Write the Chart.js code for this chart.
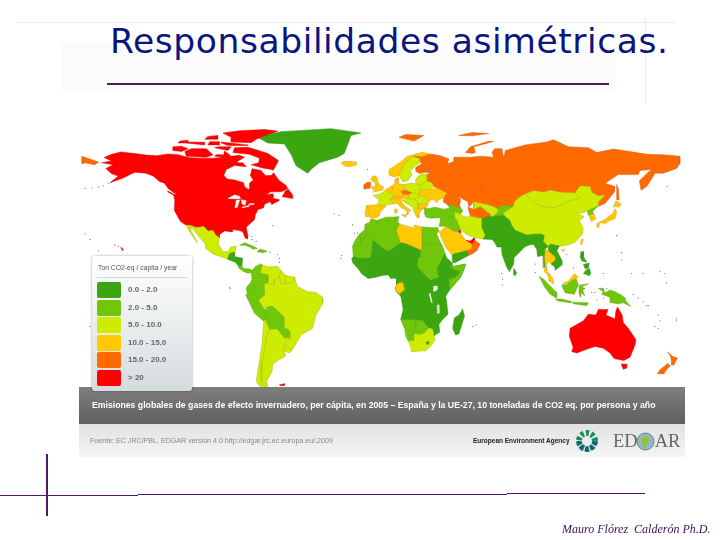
<!DOCTYPE html>
<html lang="es">
<head>
<meta charset="utf-8">
<title>Responsabilidades asimétricas</title>
<script src="https://cdn.jsdelivr.net/npm/chart.js@4"></script>
<style>
  html, body { margin: 0; padding: 0; background: #fff; }
  #page { position: relative; width: 720px; height: 540px; overflow: hidden; font-family: "Liberation Sans", sans-serif; }
  #page > * { position: absolute; }
  #map { left: 0; top: 0; filter: blur(0.45px); }
  .rule { background: #4f1a63; }
  .faint { background: #ececea; }
  #title { left: 110px; top: 21px; font: 34.5px "DejaVu Sans", sans-serif; letter-spacing: .58px; color: #0a1580; white-space: nowrap; }
  #band { left: 79px; top: 387px; width: 606px; height: 37px; background: linear-gradient(#787878, #565656); opacity: .95; }
  #bandText { left: 92px; top: 400px; font-size: 8.7px; font-weight: bold; color: #fff; white-space: nowrap; filter: blur(0.3px); }
  #foot { left: 79px; top: 424px; width: 606px; height: 33px; background: linear-gradient(#e2e2e2, #f5f5f5); }
  #source { left: 90px; top: 437px; font-size: 7.1px; color: #8a8a8a; white-space: nowrap; filter: blur(0.3px); }
  #eea { left: 473px; top: 437px; font-size: 6.5px; font-weight: bold; color: #222; white-space: nowrap; }
  #edgar { left: 613px; top: 431px; font: 18.5px "Liberation Serif", serif; color: #666; white-space: nowrap; }
  #legend { left: 92px; top: 256px; width: 100px; height: 135px; background: linear-gradient(#fff, #d6dcde); border-radius: 3px; box-shadow: 0 0 3px rgba(0,0,0,.35); }
  #legendTitle { position: absolute; left: 6px; top: 8px; font-size: 6.8px; color: #555; white-space: nowrap; }
  #legendLine { position: absolute; left: 5px; top: 21px; width: 90px; height: 1px; background: #d8d8d8; }
  .swatch { position: absolute; left: 5px; width: 24px; height: 16px; border-radius: 2px; }
  .swatchText { position: absolute; left: 36px; font-size: 8px; font-weight: bold; color: #666; white-space: nowrap; }
  #author { left: 562px; top: 522px; font: italic 12px "Liberation Serif", serif; color: #3a1060; white-space: pre; }
</style>
</head>
<body>
<div id="page">
  <div style="left:62px;top:42px;width:554px;height:49px;background:#fbfbfb"></div>
  <div class="faint" style="left:16px;top:22px;width:659px;height:1px"></div>
  <div class="faint" style="left:645px;top:17px;width:1px;height:86px"></div>
  <div id="title">Responsabilidades asimétricas.</div>
  <div class="rule" style="left:107px;top:83px;width:502px;height:2px"></div>

  <canvas id="map" width="720" height="540"></canvas>

  <div id="band"></div>
  <div id="bandText">Emisiones globales de gases de efecto invernadero, per cápita, en 2005 – España y la UE-27, 10 toneladas de CO2 eq. por persona y año</div>
  <div id="foot"></div>
  <div id="source">Fuente: EC JRC/PBL, EDGAR versión 4.0 http://edgar.jrc.ec.europa.eu/,2009</div>
  <div id="eea">European Environment Agency</div>
  <svg style="left:575px;top:429px" width="24" height="24">
    <circle cx="12" cy="12" r="8" fill="none" stroke="#1b8a5a" stroke-width="6" stroke-dasharray="3 2.2"/>
    <path d="M4 12a8 8 0 0 0 16 0" fill="none" stroke="#1a5a8a" stroke-width="5" stroke-dasharray="3 2.2"/>
  </svg>
  <div id="edgar">ED<span style="display:inline-block;width:17px"></span>AR</div>
  <svg style="left:636px;top:432px" width="19" height="19">
    <circle cx="9.5" cy="9.5" r="8.5" fill="#8fb8c8" stroke="#6a8a70" stroke-width="1"/>
    <path d="M5 6l6-2 3 4-3 3-2 6-3-5z" fill="#9cbf3a"/>
  </svg>

  <div id="legend">
    <div id="legendTitle">Ton CO2-eq / capita / year</div>
    <div id="legendLine"></div>
  </div>

  <div class="rule" style="left:46px;top:454px;width:1.5px;height:62px"></div>
  <div class="rule" style="left:0;top:495px;width:138px;height:1px"></div>
  <div class="rule" style="left:138px;top:494px;width:369px;height:1px"></div>
  <div class="rule" style="left:507px;top:493px;width:138px;height:1px"></div>
  <div id="author">Mauro Flórez  Calderón Ph.D.</div>
</div>

<script>
// legend classes, t CO2-eq per person
const bandLabels = ['0.0 - 2.0', '2.0 - 5.0', '5.0 - 10.0', '10.0 - 15.0', '15.0 - 20.0', '> 20'];
const bandColors = ['#3ba60f', '#70c70a', '#cdec00', '#ffc800', '#ff6a00', '#ff0000'];
const bandEdges = ['#2f8f12', '#5fa815', '#a9bf10', '#d9a520', '#d85c10', '#e00000'];

// country outlines, as lon,lat pairs
const canada = [-141,69.6,-135,69.3,-128,70.2,-122,69.8,-115,68.2,-108,68,-100,68,-95,68.5,-94,71.8,-90,69,-85,69.5,-82,68.5,-86,66.5,-87,64.5,-93,62,-94.5,59,-92.5,57,-88,56.5,-82.5,55,-82,52.9,-79.5,51.3,-79,52.5,-79,54.8,-76.7,56.5,-78.5,58.8,-77.5,62.4,-72,61.5,-69.5,58.8,-66,58.8,-64.5,60.3,-61.5,56.5,-57,53.5,-56,51.8,-60,50.2,-66.5,50.2,-69,48.5,-65,49.2,-64.5,47.9,-65,46.8,-61,46,-61.5,45.3,-65.7,43.5,-66.2,44.5,-67.5,45.3,-68,47.3,-70,46.3,-71.5,45,-75,45,-79,43.4,-79,42.8,-83,42,-82.5,45.3,-84.5,46.5,-89,48,-95,49,-123,49,-125,50,-128,52,-130,54.5,-133,57,-137,59,-141,60];
const alaska = [-141,69.6,-148,70.4,-156.5,71.3,-162,70,-166.5,68.3,-162,66.5,-168,65.6,-161,64.5,-165.5,62.5,-162,59.8,-158,58.5,-163,55,-155,57.5,-151,59.3,-148,60.5,-141,60,-137,58.5,-133,55.5,-130.5,55,-133,57.5,-137,59.5,-141,60.5];
const baffin = [-62,66,-64.7,61.6,-66,62,-71,62.8,-78,64.5,-73.5,65.5,-73,68,-79,70,-89,71,-88,73.5,-80,73.7,-76,72.7,-68,70.5,-62,67];
const victoriaIsland = [-117,69,-105,68.5,-101,69.7,-105,73,-114,73,-118,71.5];
const ellesmere = [-90,76.5,-78,76.2,-75,78,-70,79.5,-62,82.3,-70,83.1,-85,82.5,-95,81.3,-90,79];
const banks = [-125,72,-120,71.5,-116,73,-120,74.3,-125,74];
const devon = [-96,76.5,-80,75,-80,74.7,-92,74.7,-96,76];
const melville = [-117,76,-106,75,-106,76.4,-116,76.5];
const princePatrick = [-122,76,-116,76,-116,77.5,-121,77];
const bathurst = [-104,75,-97,75,-97,76.7,-103,76.7];
const ringnes = [-106,78,-98,78,-98,80,-104,79.5];
const kingWilliam = [-100,69,-95,68.5,-95,69.8,-99,69.8];
const southampton = [-87,64,-81,63.5,-83,65.5,-87,65.5];
const somerset = [-100,73.5,-92,72,-90,74,-98,74];
const newfoundland = [-59.3,47.6,-53,46.7,-53,48.5,-55.7,51.5,-57.5,50.5];
const vancouver = [-128.3,50.7,-123.5,48.4,-125,48.7,-128,50];
const usa = [-123,49,-95,49,-89,48,-84.5,46.5,-82.5,45.3,-83,42,-79,42.8,-79,43.4,-75,45,-71.5,45,-70,46.3,-68,47.3,-67.5,45.3,-67,44.8,-70,43.6,-70.5,41.8,-74,40.7,-75.5,38,-76,35.5,-78,33.9,-81,31.5,-80,27,-80.3,25.2,-81.7,25.9,-83,29,-85,29.7,-89,30.2,-89.5,29,-94,29.5,-97.3,27.5,-97.2,25.9,-99.5,27.5,-101,29.7,-104,29.5,-106.5,31.8,-111,31.3,-114.8,32.5,-117.1,32.5,-120.5,34.5,-122.5,37.5,-124.3,40.5,-124,46,-124.7,48.4];
const lakeSuperior = [-92,46.7,-88,48.5,-85,47.8,-84.5,46.5,-87,46.5];
const lakeMichigan = [-87.8,41.7,-86.3,42,-85,45.8,-87,45.7];
const lakeHuron = [-84,46,-81,45.5,-81.7,43.2,-83.5,43.8];
const lakeErie = [-83.3,41.7,-79,42.6,-79.5,42.9,-83,42.2];
const lakeOntario = [-79.7,43.3,-76.3,43.5,-76.3,44,-79,43.9];
const greenland = [-73,78.5,-68,76,-58,75.5,-54,70,-51,64,-44,60,-42,62,-37,65.6,-26,68.5,-22,70.5,-20,75,-18,80,-12,81.3,-30,83.6,-50,82.5,-60,82,-65,81];
const iceland = [-24,65.5,-22,64,-19,63.4,-14.5,64.5,-14.7,66,-18,66.2,-22,66.3];
const mexico = [-117.1,32.5,-114.8,32.5,-111,31.3,-106.5,31.8,-104,29.5,-101,29.7,-99.5,27.5,-97.2,25.9,-97.8,22.4,-95,18.6,-91.5,18.5,-90.5,21,-87,21.5,-88,18.2,-91,17.5,-92.2,14.6,-96,15.8,-101,17.3,-105.5,20.3,-105.5,22.5,-109,26,-112.5,30,-114.7,31.7,-114.5,30,-110,23,-112,25,-115,29];
const centralNorth = [-92.2,14.6,-91,17.5,-88,18.2,-88.2,16,-83.2,15,-83.6,11,-85.7,11,-87.6,13,-90,13.7];
const centralSouth = [-85.7,11,-83.6,11,-82.5,9.5,-79.5,9.5,-77.3,8.7,-78,7.3,-80.5,7.3,-83,8.3,-85.7,10];
const cuba = [-85,22,-82,23.2,-77,21.5,-74.2,20.2,-77.5,19.9,-78,20.8,-82,22];
const hispaniola = [-74.4,18.5,-72.8,19.9,-68.4,18.8,-71,18];
const colombia = [-77.3,8.7,-75.5,10.7,-72,12.2,-71.3,11,-72.5,7.4,-67.5,6.2,-67.8,2,-70,1.5,-69.8,-4.2,-73,-2.4,-75,-0.1,-78.8,1.4,-77.5,4,-77.9,7.2];
const venezuela = [-71.3,11,-72,11.8,-68,10.6,-62,10.7,-60,8.5,-61,5,-64,4,-64,1.2,-67,1.2,-67.8,2,-67.5,6.2,-72.5,7.4];
const guyana = [-60,8.5,-57.2,6,-58,1.5,-60,1.4,-61,5];
const suriname = [-57.2,6,-52,5,-51.7,4,-54,2.3,-58,1.5];
const ecuador = [-78.8,1.4,-75,-0.1,-75.5,-1.5,-78.5,-4.5,-80.3,-3.4,-81,-1,-80,0.8];
const peru = [-81.3,-4.5,-80.3,-3.4,-78.5,-4.5,-75.5,-1.5,-75,-0.1,-73,-2.4,-69.8,-4.2,-73.5,-7.3,-70.6,-11,-69,-12.5,-69.5,-17.5,-70.4,-18.3,-76,-14,-79.5,-7.5];
const bolivia = [-69,-10.9,-65.3,-10,-60.5,-13.7,-58,-16.3,-58,-20,-62.6,-22.2,-67,-22.8,-69.5,-17.5,-69,-12.5];
const paraguay = [-58,-20,-62.6,-22.2,-58,-27.2,-54.6,-27,-54.3,-24,-55.8,-22.3,-58,-22];
const brazil = [-51.7,4,-50,0,-44,-2.6,-39,-3,-35,-5.5,-35,-9,-39,-15,-41,-22,-48,-25.5,-53.4,-33.7,-57.6,-30.2,-54.6,-27,-54.3,-24,-55.8,-22.3,-58,-22,-58,-16.3,-60.5,-13.7,-65.3,-10,-69,-10.9,-70.6,-11,-73.5,-7.3,-69.8,-4.2,-70,1.5,-67.8,2,-67,1.2,-64,1.2,-64,4,-61,5,-60,1.4,-58,1.5,-54,2.3];
const uruguay = [-57.6,-30.2,-53.4,-33.7,-55,-35,-58.4,-34];
const argentina = [-67,-22.8,-62.6,-22.2,-58,-27.2,-54.6,-27,-57.6,-30.2,-58.4,-34,-57,-36.5,-62,-39,-65,-41,-65.5,-45,-69,-50.5,-68.5,-52.5,-65,-55,-68.6,-54.8,-72,-50,-71.5,-40,-70,-33,-69,-27];
const chile = [-69.5,-17.5,-67,-22.8,-69,-27,-70,-33,-71.5,-40,-72,-50,-68.6,-54.8,-71,-55,-75,-50,-73.5,-42,-71.5,-30,-70.4,-18.3];
const falklands = [-61,-51.8,-58,-51.3,-58,-52.2,-60.5,-52.3];
const morocco = [-5.9,35.8,-2,35.1,-1.2,32.5,-8.7,27.7,-8.7,26,-12,26,-12,23.4,-13,21.3,-17,21.3,-16,23.7,-13,27.7,-9.8,30,-9.5,33,-6.8,34];
const algeria = [-2,35.1,3,36.8,8.6,36.9,8,33,9.5,30,11.9,23.5,6,19.4,3.3,19,-4.8,25,-8.7,27.7,-1.2,32.5];
const tunisia = [8.6,36.9,11,37.1,10.2,34.3,11.5,33.1,9.5,30,8,33];
const libya = [11.5,33.1,15.3,32.3,20,30.9,20.2,32.7,25,31.6,25,20,24,19.5,15,23,11.9,23.5,9.5,30];
const egypt = [25,31.6,32,31.2,34.2,31.3,34.9,29.5,33.7,28,35.5,24,37,22,25,22];
const sudan = [25,22,37,22,38.5,18,36.5,14.3,34,10,34,8,35,5,30,3.5,24,8.7,22,11,22.8,15.5,24,15.7,24,19.5,25,20];
const mauritania = [-17,21.3,-13,21.3,-12,23.4,-12,26,-8.7,26,-8.7,27.7,-4.8,25,-6,15.5,-12,15,-16.5,16];
const subSahara = [-17.5,14.7,-16.7,12.4,-13.5,9.5,-11.5,6.9,-7.6,4.4,-3,5,1,6,4.5,6.3,6,4.3,8.5,4.6,9.7,3.5,9.5,1,8.7,-1,9.3,-2.5,12,-5,12.3,-6,13.5,-12,12,-17.3,14,-17.4,23.4,-17.6,25,-17.8,29,-22,31.3,-22.4,32,-26,33,-25.3,35.5,-24,35,-20,37,-17.5,40.5,-14.5,39.5,-7,39,-5,41.5,-1.7,45,2,48,5,50,9,51,12,44,10.7,43,11.5,43,12.5,39.5,15.5,38.5,18,36.5,14.3,34,10,34,8,35,5,30,3.5,24,8.7,22,11,22.8,15.5,24,15.7,24,19.5,15,23,11.9,23.5,6,19.4,3.3,19,-4.8,25,-6,15.5,-12,15,-16.5,16];
const somalia = [42,11,44,10.7,51,12,50,9,48,5,45,2,41.5,-1.7,41,3.9,45,5,48,8,43,9.5];
const gabon = [9.5,1,11.3,2.2,13.3,2.2,14.3,-1.5,11.5,-3.7,9.3,-2.5,8.7,-1];
const lakeVictoria = [32,-2.5,34,-1.5,34,0.3,32,0.2];
const lakeTanganyika = [29.2,-3.5,29.7,-3.5,31,-8.5,30.4,-8.2];
const lakeMalawi = [34.5,-9.5,35,-14,34.4,-14,34,-10];
const namibia = [12,-17.3,14,-17.4,23.4,-17.6,25,-17.8,21,-18.3,21,-22,20,-24.8,20,-28.5,16.5,-28.6,15,-26,14.5,-22.5];
const botswana = [21,-18.3,25,-17.8,29,-22,26,-24.7,23,-25.3,20,-24.8,21,-22];
const southAfrica = [16.5,-28.6,20,-28.5,20,-24.8,23,-25.3,26,-24.7,29,-22,31.3,-22.4,32,-26,32.8,-28,30,-31.5,27,-33.8,22,-34.1,18.5,-34.5,18,-32];
const lesotho = [27.2,-29.7,28.6,-28.8,29.3,-29.8,28,-30.6];
const madagascar = [49.3,-12,50.4,-15.5,47,-25,45,-25.5,43.3,-22,44.3,-16.5,47,-15];
const france = [-1.8,43.4,-1,46,-4.7,48.4,-1.6,48.7,1.5,50.1,2.5,51,4.2,50,8.2,49,7.5,47.5,6,46.3,7.5,43.8,3.2,43.2,3,42.4];
const spain = [-9,43,-1.8,43.4,3,42.4,0,39.8,-0.7,37.7,-2,36.8,-5.5,36,-7.3,37.2,-7,41.9,-8.8,41.9];
const portugal = [-8.8,41.9,-7,41.9,-7.3,37.2,-9,37,-9.5,38.8];
const britain = [-5,50,1.3,51.2,1.7,52.7,0,53.5,-1.5,55,-2,56,-2,57.6,-3.5,58.6,-5,58.6,-6,56.5,-3,54.8,-3,53.4,-5,52.8,-5,51.6,-3,51.3];
const ireland = [-10,51.7,-6.2,52.2,-6,55.2,-8.2,55.2,-10,54];
const benelux = [2.5,51,4,52,6.9,53.4,7,50.7,6.5,49.5,4.2,50];
const germany = [7,53.6,9,54.9,14,54,14.8,51,12.2,50.3,13.8,48.7,13,47.5,7.5,47.5,8.2,49,6.5,49.5,7,50.7];
const poland = [14,54,18.5,54.8,23,54.3,24,51,22.7,49,19,49.4,14.8,51];
const czechia = [12.2,50.3,14.8,51,18.8,49.6,17,48.7,13.8,48.7];
const austria = [7.5,47.5,13,47.5,13.8,48.7,17,48.7,16.5,46.8,12.5,46.7,10,46.5,6,46.3];
const italy = [6,46.3,7.5,43.8,10,44,12,42,15.8,40,16,38,17,39,16.7,40.2,18.5,40.2,16,41.7,13.5,43.6,12.3,45.3,13.7,45.7,12.5,46.7,10,46.5];
const sicily = [12.5,38,15.6,38.2,15,36.7];
const sardinia = [8.2,41,9.7,41,9.6,39,8.5,39];
const hungary = [17,48.7,18.8,49.6,22.7,49,22.9,47.9,21,46,16.5,46.8];
const balkans = [13.7,45.7,16.5,46.8,21,46,22.7,44,22.5,41.3,20,39.7,19.3,42,13.7,45];
const greece = [20,39.7,22.5,41.3,26.3,41.7,24,40,23,38,23,36.5,21.7,36.8];
const romania = [22.9,47.9,26.6,48.2,28.2,45.5,29.6,45,28.6,44,22.7,44,21,46];
const bulgaria = [22.7,44,28.6,43.6,27.7,42,26.3,41.7,22.5,41.3];
const ukraine = [24,51,30,51.4,34,52.3,40,49.6,38,47,35,46,33.5,44.5,32,46.2,30,45.7,28.2,45.5,26.6,48.2,22.9,47.9,22.7,49];
const belarus = [23.5,53.9,28,56,31,55,32,53,30,51.4,24,51];
const baltics = [21,56,21.5,57.5,24,59.5,28,59.5,28,56,23.5,53.9,21,55.2];
const denmark = [8.2,55,8.6,57,10.6,57.7,10.5,55];
const norway = [5,59,5,62,12,66,16,69,25,71.1,31,70,28,69.5,25,68.7,20,69,15,66,12,61,12,59,8,58];
const sweden = [11,59,12,61,15,66,20,69,23.5,67.8,24,65.8,21,64,17.5,61,19,59.5,16.5,56.3,14,55.4,12.8,56];
const finland = [20,69,25,68.7,28,69.5,29,66,31.5,62.8,27.8,60.5,23,60,21.2,61,21,63,24.7,65,24,65.8,23.5,67.8];
const russia = [28,59.5,30,60,27.8,60.5,31.5,62.8,29,66,28,69.5,31,70,36,69.3,41,67.5,40,65,44,66.2,44,68.5,54,68.5,60,69,68,68.5,67,71,68.5,73,73,73,74,68,75,72,81,73.5,87,75,100,76.5,104,77.7,113,74,125,73.5,130,71,140,72.8,150,71.5,160,70,170,69.8,180,69,180,65,178,62.5,170,60,165,60,163,57,160,53,156.7,51,155.7,56,161,60.5,163,62,156,61.5,155,59.3,143,59.3,135,54.7,141,53,140.5,50,135,44,131,42.5,131,45,135,48.5,131,48,127,50,126,53,120,53.3,117,49.6,108,50,102,51,98,50,92,50.7,87,49,83,51,77,53.5,71,55,61,54,61,51,55,51,51,51.5,47,50,47,48,48,46,47.5,43,48,41.8,47,42,40,43.5,37.5,45,38,47,40,49.6,34,52.3,32,53,31,55,28,56];
const chukotkaWest = [-180,69,-175,67.5,-170,66,-172,64.5,-178,65.5,-180,65];
const sakhalin = [142,54,143,52,143.5,46,142,46,142,50];
const novayaZemlya = [51,71,55,70.5,57,71,56,74,68,76.8,65,76.9,54,74];
const franzJosef = [47,80,55,79.8,65,81,55,81.5];
const svalbard = [11,79,20,77,26,80,15,80.5];
const kazakhstan = [47,50,51,51.5,55,51,61,51,61,54,71,55,77,53.5,83,51,87,49,83,47,80,42.5,74,43,70,41.5,66,43,61,44,56,41,56,45,53,42,52.5,45,49,46.5,47,48];
const turkmenistan = [52.5,42,56,41,60,42.5,66.5,38,64,36,61,36,54,37.3,53,40];
const uzbekistan = [56,45,56,41,60,42.5,66.5,38,68,37.2,71,40,73,40.5,70,41.5,66,43,61,44];
const kyrgyzTajik = [70,41.5,74,43,80,42.5,74,39,74.5,37.5,68,37.2,71,40];
const caucasus = [40,43.5,47,42,48,41.8,49.5,40,48,38.5,44.5,39.5,41.5,41.5];
const turkey = [26.3,41.7,28,41.3,33,42,38,41,41.5,41.5,44.5,39.5,44.5,37,36,36.5,30,36.2,27,37,26.3,39];
const syriaIraq = [36,36.5,44.5,37,46,35,48,30,46.5,29.1,44,29.2,39,32,35,32,35.8,34.5];
const saudi = [34.9,29.5,36,29.3,39,32,44,29.2,46.5,29.1,48,28.4,50,26,51.5,24.5,55,22.7,55,20,52,19,44,17.3,43,16.7,39,21,35.5,28];
const yemen = [43,16.7,44,17.3,52,19,53,16.6,45,12.8,43.3,12.7];
const oman = [55,22.7,56.4,24.9,59.8,22.5,57.7,19,55.3,17.5,53,16.6,52,19,55,20];
const emirates = [51.5,24.5,54,24.2,56.3,26,56.4,24.9,55,22.7];
const kuwait = [46.5,29.1,48,30,48.3,28.5];
const iran = [44.5,39.5,48,38.5,49,37.6,51.5,36.8,54,37.3,61,36,61,31.5,63,27,61.6,25.2,57,26,54,26.7,51,28,48.5,30,46,35,44.5,37];
const southAsia = [61,36,65,37.3,68,37.2,74.5,37.5,78,35,79,32.5,81,30,88,27.5,92,28,97,28,98.7,27,98,24,101,21.3,99,20,98.7,15,99,10.5,98,10,97.7,16.5,94.3,16,94,19.5,92,22.5,89,22,87,21.3,80.3,15.5,80,12,77.5,8,76,10,73,17,72.7,21,70,21,68.5,23.5,67,25,61.6,25.2,63,27,61,31.5];
const sriLanka = [80,9.7,81.8,7.5,81,6,80,6.2];
const china = [74,39,80,42.5,80.5,45,83,47,87,49,91,45.5,96,42.7,105,41.7,112,45,120,47,117,49.6,120,53.3,126,53,127,50,131,48,135,48.5,131,45,131,42.5,128,41.5,124.3,40,121.5,39,118,39,122.5,37,119.5,35,121.8,31,121.5,28,117,23.5,113.5,22.3,109.5,21.5,107.5,21.5,102,22.5,101,21.3,98,24,98.7,27,97,28,92,28,88,27.5,81,30,79,32.5,78,35,74.5,37.5];
const mongolia = [87,49,92,50.7,98,50,102,51,108,50,117,49.6,120,47,112,45,105,41.7,96,42.7,91,45.5];
const taiwan = [121,25.2,122,25,120.8,22,120.1,23];
const hainan = [108.7,19.3,110.8,20,110,18.5];
const northKorea = [124.3,40,128,41.5,130.5,42.5,127.5,39.7,128.3,38.6,126,38,125,37.8];
const southKorea = [125.5,37.7,128.3,38.6,129.4,36,127,34.5,126.3,35];
const honshu = [131,34,135,35.5,137,37,139.5,38.5,141,41.3,142,39.5,141,36,137,34.6,135.5,33.5,132,33.8];
const hokkaido = [140,42,141.5,45.5,145,43.5,143,42,141,42.5];
const kyushu = [130,33.5,131.7,33.5,131.2,31.2,130,31.5];
const thailand = [98.7,15,99,20,101,19,105,16,105.5,14.3,102.5,12,100.5,13.5,99.5,11,100,8.5,102,6.2,100.5,6.5,98.3,8,99,10.5];
const indochina = [101,21.3,102,22.5,107.5,21.5,106,19,109,14,109,11.5,105,8.7,104.8,10.5,102.5,12,105.5,14.3,105,16,101,19];
const malaya = [100.5,6.5,102,6.2,103.5,4.5,104,1.4,101.3,3];
const kalimantan = [109,1,112,1,115,4,117.5,4.2,119,1,116.5,-4,111,-3.2,109.5,-0.5];
const sabah = [109.7,1.8,113,3,116.8,7,119,5,117.5,4.2,115,3.5,112,1.3];
const sumatra = [95.3,5.6,98,4,104,-1.5,106,-3,105.7,-5.9,102,-4,98.5,0];
const java = [105.2,-6.5,108.5,-6.5,114.5,-7.7,114.5,-8.5,106.5,-7.5];
const sunda = [115,-8.2,125,-8.5,124,-10,116,-9];
const sulawesi = [119.5,0.8,125,1.6,121,0,123,-1,121.5,-2,122.8,-4.8,120.5,-3,120.3,-5.5,119.3,-3.5];
const newGuinea = [131,-0.8,134,-0.8,135,-3.3,138,-1.7,141,-2.6,145,-4.5,147.7,-6.5,147,-7,150.5,-10.5,146,-8.5,143,-9,138,-8.4,138,-5.5,133,-4,134,-2.7];
const luzon = [120.5,18.5,122.2,18.5,122,16,124,13,121,13.7,120,16];
const mindanao = [122,7,123.5,8.7,125.5,9.8,126.5,7,125.3,5.7,124,6.5];
const visayas = [122,11.8,125.5,12.5,125,10,123,9.5];
const australia = [114,-22,113.5,-26,115.8,-32,115,-34.3,118,-35,124,-33,129,-31.6,134,-32.5,138,-35,140.5,-38,146.3,-39,150,-37.3,153,-31,153.6,-28,149,-22,146,-19,145.3,-15,142.5,-10.7,141.5,-13,141,-17,135.5,-15,136.8,-12,131,-12,129.5,-15,125,-14.5,122,-18,117,-20.5];
const tasmania = [144.7,-40.8,148.3,-41,148,-43,146,-43.6];
const nzNorth = [172.7,-34.5,175.5,-36.8,178.5,-37.7,176.5,-41.4,174.8,-41.3,175,-39.5,174.5,-37];
const nzSouth = [172.7,-40.6,174.3,-41.7,171,-45,170.5,-46,166.5,-46,168,-44];
const hawaii = [-156.5,20.9,-155,19.8,-155.7,19,-156,20];

// small islands, lon,lat pairs
const islandDots = [-160,22,-158,21.4,-170,19,-175,25,-178,28,-16,28.3,-14,28.5,-25,37.8,-28,38.6,-24,15,-23.5,16.5,-61,15,-61,13,-62,17,-66.5,18.2,-75,24,-77.5,25,-78,26.5,-91,-0.5,-90.5,-0.8,-17,32.7,-8,62,-65,32.3,
  -178,52,-174,52.2,-170,52.8,-167,53.5,-164,54.5,172.5,53,
  57.5,-20.2,55.5,-21,49,-12,73.3,4,73.2,1,72.8,7,93,12,93,7.5,112,17,116,10,127,-3,129,-3,130,-7,134,-6,136,-1,152,-4,155,-6,158,-8,161,-10,167,-15,168,-18,165,-21,167,-22,178,-18,178,-17,172,2,168,8,171,7,151,7,158,7,145,14,145,18,134,7,142,27,160,-10,-172,-14,-175,-21];

// outline, legend class (-1 is a white lake), in drawing order
const mapShapes = [
  [canada,5],[alaska,5],[baffin,5],[victoriaIsland,5],[ellesmere,5],[banks,5],[devon,5],[melville,5],[princePatrick,5],[bathurst,5],[ringnes,5],[kingWilliam,5],[southampton,5],[somerset,5],[newfoundland,5],[vancouver,5],[usa,5],
  [lakeSuperior,-1],[lakeMichigan,-1],[lakeHuron,-1],[lakeErie,-1],[lakeOntario,-1],
  [greenland,0],[iceland,3],[mexico,2],[centralNorth,0],[centralSouth,1],[cuba,1],[hispaniola,1],
  [colombia,1],[venezuela,2],[guyana,2],[suriname,2],[ecuador,1],[peru,1],[bolivia,1],[paraguay,1],[brazil,2],[uruguay,2],[argentina,2],[chile,2],[falklands,5],
  [subSahara,0],[morocco,1],[algeria,1],[tunisia,1],[libya,3],[egypt,1],[sudan,1],[mauritania,1],[somalia,1],[gabon,3],[namibia,1],[botswana,1],[southAfrica,2],[lesotho,0],[madagascar,0],
  [lakeVictoria,-1],[lakeTanganyika,-1],[lakeMalawi,-1],
  [france,2],[spain,3],[portugal,3],[britain,3],[ireland,4],[benelux,3],[germany,3],[poland,2],[czechia,4],[austria,3],[italy,3],[sicily,3],[sardinia,3],[hungary,2],[balkans,2],[greece,3],[romania,2],[bulgaria,3],[ukraine,3],[belarus,2],[baltics,2],[denmark,3],[norway,3],[sweden,2],[finland,4],
  [russia,4],[chukotkaWest,4],[sakhalin,4],[novayaZemlya,4],[franzJosef,4],[svalbard,4],[kazakhstan,4],[turkmenistan,4],[uzbekistan,2],[kyrgyzTajik,1],[caucasus,1],[turkey,1],[syriaIraq,1],[saudi,3],[yemen,0],[oman,4],[emirates,5],[kuwait,5],[iran,2],
  [southAsia,0],[sriLanka,0],[china,2],[mongolia,2],[taiwan,3],[hainan,2],[northKorea,1],[southKorea,3],[honshu,3],[hokkaido,3],[kyushu,3],[thailand,3],[indochina,0],[malaya,3],[kalimantan,1],[sabah,3],[sumatra,1],[java,1],[sunda,1],[sulawesi,1],[newGuinea,1],[luzon,0],[mindanao,0],[visayas,0],
  [australia,5],[tasmania,5],[nzNorth,4],[nzSouth,4],[hawaii,5]
];

function toPoints(flat, close) {
  const pts = [];
  for (let i = 0; i < flat.length; i += 2) pts.push({ x: flat[i], y: flat[i + 1] });
  if (close) pts.push(pts[0]);
  return pts;
}

// paint the inside of each outline before the library strokes it
const fillShapes = {
  id: 'fillShapes',
  beforeDatasetDraw(chart, args) {
    const color = chart.data.datasets[args.index].shapeFill;
    if (!color) return;
    const { ctx } = chart;
    ctx.save();
    ctx.beginPath();
    args.meta.data.forEach((p, i) => i ? ctx.lineTo(p.x, p.y) : ctx.moveTo(p.x, p.y));
    ctx.closePath();
    ctx.fillStyle = color;
    ctx.fill();
    ctx.restore();
  }
};

const datasets = mapShapes.map(([outline, band], i) => ({
  data: toPoints(outline, true),
  showLine: true,
  pointRadius: 0,
  borderWidth: 0.5,
  borderColor: band < 0 ? '#ffffff' : bandEdges[band],
  shapeFill: band < 0 ? '#ffffff' : bandColors[band],
  order: mapShapes.length - i + 1
}));
datasets.push({
  data: toPoints(islandDots, false),
  showLine: false,
  pointRadius: 0.6,
  pointBorderWidth: 0,
  pointBackgroundColor: '#5d7a50',
  order: 0
});

new Chart(document.getElementById('map'), {
  type: 'scatter',
  data: { datasets },
  options: {
    responsive: false,
    animation: false,
    events: [],
    layout: { padding: 0 },
    scales: {
      x: { type: 'linear', display: false, min: -226.8, max: 201.8 },
      y: { type: 'linear', display: false, min: -131.8, max: 149.5 }
    },
    plugins: { legend: { display: false }, tooltip: { enabled: false } }
  },
  plugins: [fillShapes]
});

// legend box
const legendBox = document.getElementById('legend');
bandLabels.forEach((label, i) => {
  const top = 26 + i * 17.6;
  const swatch = document.createElement('div');
  swatch.className = 'swatch';
  swatch.style.top = top + 'px';
  swatch.style.background = bandColors[i];
  legendBox.appendChild(swatch);
  const text = document.createElement('div');
  text.className = 'swatchText';
  text.style.top = (top + 3) + 'px';
  text.textContent = label;
  legendBox.appendChild(text);
});
</script>
</body>
</html>
